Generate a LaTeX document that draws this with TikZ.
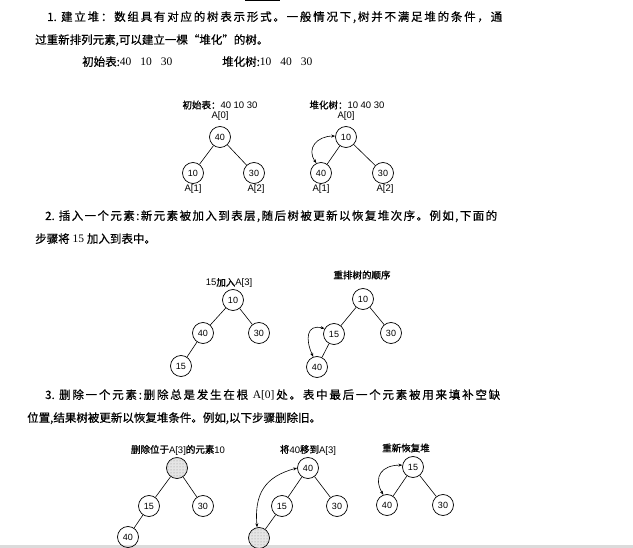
\documentclass[tikz,border=0pt]{standalone}
\usepackage{fontspec}
\setmainfont{Liberation Serif}
\setsansfont{Liberation Sans}
\newfontfamily\cj[FakeBold=0.6]{Noto Sans CJK SC}
\newfontfamily\cjb[FakeBold=1.2]{Noto Sans CJK SC}
\usetikzlibrary{arrows.meta,patterns}
% spread a string: glue between every token
\def\endsp{ENDSP}
\def\spr#1{\spa#1\endsp}
\def\spa#1{#1\spb}
\def\spb#1{\ifx\endsp#1\else\hskip0pt plus1fil\relax#1\expandafter\spb\fi}
\newcommand\OneDot{1.\ }
\newcommand\TwoDot{2.\ }
\newcommand\ThreeDot{3.\ }
\newcommand\AZ{{\rmfamily\ A[0]}}
\begin{document}
\begin{tikzpicture}[x=1pt,y=-1pt,
  body/.style={anchor=base west, inner sep=0, font=\fontsize{11.5}{14}\selectfont},
  ttl/.style={inner sep=0, font=\sffamily\fontsize{9.5}{11}\selectfont},
  lbl/.style={inner sep=0, font=\sffamily\fontsize{9.5}{11}\selectfont},
  hn/.style={circle, draw, line width=0.7pt, minimum size=21pt, inner sep=0, font=\sffamily\fontsize{9}{10}\selectfont},
  hole/.style={hn, fill=black!10, postaction={pattern=dots, pattern color=black!45}},
  edge/.style={line width=0.6pt},
  swap/.style={line width=0.6pt, {Stealth[length=4pt,width=3pt]}-{Stealth[length=4pt,width=3pt]}}]
\useasboundingbox (0,0) rectangle (633,548);
\fill[black!14] (0,545) rectangle (633,548);
\draw[line width=1.5pt] (245,0.7) -- (280,0.7);

% ---- section 1 text
\node[body] (t11) at (47,21) {\makebox[455pt][s]{\cj\spr{\OneDot 建立堆：数组具有对应的树表示形式。一般情况下,树并不满足堆的条件，通}}};
\node[body] (t12) at (35,44) {\cj 过重新排列元素,可以建立一棵“堆化”的树。};
\node[body] (t13) at (82,66) {{\cj 初始表:}40\hspace{9pt}10\hspace{9pt}30};
\node[body] (t14) at (222,66) {{\cj 堆化树:}10\hspace{9pt}40\hspace{9pt}30};

% ---- diagram 1 left
\node[ttl] (ta) at (220,105) {{\cjb 初始表：}40 10 30};
\node[lbl] (la0) at (220,116) {A[0]};
\node[hn] (a40) at (220,137) {40};
\node[hn] (a10) at (193,173) {10};
\node[hn] (a30) at (254,173) {30};
\node[lbl] (la1) at (193,189) {A[1]};
\node[lbl] (la2) at (256,189) {A[2]};
\draw[edge] (a40) -- (a10);
\draw[edge] (a40) -- (a30);

% ---- diagram 1 right
\node[ttl] (tb) at (347,105) {{\cjb 堆化树：}10 40 30};
\node[lbl] (lb0) at (346,116) {A[0]};
\node[hn] (b10) at (346,137) {10};
\node[hn] (b40) at (321,173) {40};
\node[hn] (b30) at (383,173) {30};
\node[lbl] (lb1) at (321,189) {A[1]};
\node[lbl] (lb2) at (385,189) {A[2]};
\draw[edge] (b10) -- (b40);
\draw[edge] (b10) -- (b30);
\draw[swap] (b40.115) to[out=125,in=180,looseness=1.4] (b10.175);

% ---- section 2 text
\node[body] (t21) at (45,220) {\makebox[452pt][s]{\cj\spr{\TwoDot 插入一个元素:新元素被加入到表层,随后树被更新以恢复堆次序。例如,下面的}}};
\node[body] (t22) at (35,243) {{\cj 步骤将} 15 {\cj 加入到表中。}};

% ---- diagram 2 left
\node[ttl] (tc) at (229,283) {15{\cjb 加入}A[3]};
\node[hn] (c10) at (233,300) {10};
\node[hn] (c40) at (203,333) {40};
\node[hn] (c30) at (259,333) {30};
\node[hn] (c15) at (181,366) {15};
\draw[edge] (c10) -- (c40);
\draw[edge] (c10) -- (c30);
\draw[edge] (c40) -- (c15);

% ---- diagram 2 right
\node[ttl] (td) at (362,275) {\cjb 重排树的顺序};
\node[hn] (d10) at (363,299) {10};
\node[hn] (d15) at (334,334) {15};
\node[hn] (d30) at (391,333) {30};
\node[hn] (d40) at (317,367) {40};
\draw[edge] (d10) -- (d15);
\draw[edge] (d10) -- (d30);
\draw[edge] (d15) -- (d40);
\draw[swap] (d40.110) to[out=115,in=165,looseness=1.6] (d15.150);

% ---- section 3 text
\node[body] (t31) at (45,399) {\makebox[455pt][s]{\cj\spr{\ThreeDot 删除一个元素:删除总是发生在根\AZ 处。表中最后一个元素被用来填补空缺}}};
\node[body] (t32) at (27,422) {\cj 位置,结果树被更新以恢复堆条件。例如,以下步骤删除旧。};

% ---- diagram 3 left
\node[ttl] (te) at (178,450) {{\cjb 删除位于}A[3]{\cjb 的元素}10};
\node[hole] (e0) at (177,468) {};
\node[hn] (e15) at (149,506) {15};
\node[hn] (e30) at (203,506) {30};
\node[hn] (e40) at (128,537) {40};
\draw[edge] (e0) -- (e15);
\draw[edge] (e0) -- (e30);
\draw[edge] (e15) -- (e40);

% ---- diagram 3 middle
\node[ttl] (tf) at (308,450) {{\cjb 将}40{\cjb 移到}A[3]};
\node[hn] (f40) at (308,468) {40};
\node[hn] (f15) at (282,506) {15};
\node[hn] (f30) at (337,506) {30};
\node[hole] (f0) at (259,538) {};
\draw[edge] (f40) -- (f15);
\draw[edge] (f40) -- (f30);
\draw[edge] (f15) -- (f0);
\draw[swap] (f0.100) to[out=95,in=195,looseness=1.2] (f40.180);

% ---- diagram 3 right
\node[ttl] (tg) at (406,448) {\cjb 重新恢复堆};
\node[hn] (g15) at (413,467) {15};
\node[hn] (g40) at (387,505) {40};
\node[hn] (g30) at (443,505) {30};
\draw[edge] (g15) -- (g40);
\draw[edge] (g15) -- (g30);
\draw[swap] (g40.110) to[out=120,in=180,looseness=1.5] (g15.170);
\end{tikzpicture}
\end{document}
